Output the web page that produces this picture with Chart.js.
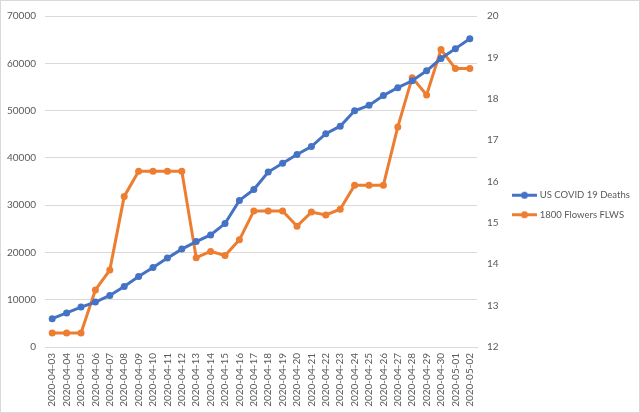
<!DOCTYPE html>
<html>
<head>
<meta charset="utf-8">
<script src="https://cdn.jsdelivr.net/npm/chart.js@4"></script>
<style>
html,body{margin:0;padding:0;background:#fff;}
#wrap{width:640px;height:413px;position:relative;}
</style>
</head>
<body>
<div id="wrap"><canvas id="c" width="640" height="413"></canvas></div>
<script>
const categories = ["2020-04-03","2020-04-04","2020-04-05","2020-04-06","2020-04-07","2020-04-08","2020-04-09","2020-04-10","2020-04-11","2020-04-12","2020-04-13","2020-04-14","2020-04-15","2020-04-16","2020-04-17","2020-04-18","2020-04-19","2020-04-20","2020-04-21","2020-04-22","2020-04-23","2020-04-24","2020-04-25","2020-04-26","2020-04-27","2020-04-28","2020-04-29","2020-04-30","2020-05-01","2020-05-02"];
const covidDeaths = [6000,7200,8450,9500,10900,12800,14900,16800,18800,20700,22300,23700,26100,31000,33300,37000,38850,40700,42400,45100,46700,49950,51100,53200,54850,56300,58400,61000,63100,65200];
const flwsPrice = [12.34,12.34,12.34,13.38,13.86,15.64,16.25,16.25,16.25,16.25,14.16,14.31,14.21,14.59,15.29,15.29,15.29,14.92,15.26,15.19,15.33,15.91,15.91,15.91,17.32,18.51,18.09,19.19,18.73,18.73];
const leftTicks = [0,10000,20000,30000,40000,50000,60000,70000];
const rightTicks = [12,13,14,15,16,17,18,19,20];
const seriesNames = ["US COVID 19 Deaths","1800 Flowers FLWS"];
const colors = ["#4472C4","#ED7D31"];

function legendIcon(color){
  const cv = document.createElement('canvas');
  cv.width = 25; cv.height = 9;
  const g = cv.getContext('2d');
  g.strokeStyle = color; g.lineWidth = 3;
  g.beginPath(); g.moveTo(0,4.5); g.lineTo(25,4.5); g.stroke();
  g.fillStyle = color;
  g.beginPath(); g.arc(12.5,4.5,3.5,0,Math.PI*2); g.fill();
  return cv;
}
const icons = colors.map(legendIcon);

const border = {
  id:'border',
  afterLayout(chart){
    if (chart.legend){ chart.legend.top -= 8; chart.legend.bottom -= 8; }
  },
  afterDraw(chart){
    const ctx = chart.ctx;
    ctx.save();
    ctx.strokeStyle = '#d9d9d9';
    ctx.lineWidth = 1;
    ctx.strokeRect(0.5,0.5,chart.width-1,chart.height-1);
    ctx.restore();
  }
};

const fam = 'Lato, "Liberation Sans", sans-serif';

new Chart(document.getElementById('c'), {
  type:'line',
  data:{
    labels:categories,
    datasets:[
      {label:seriesNames[0], data:covidDeaths, yAxisID:'y', borderColor:colors[0], backgroundColor:colors[0], borderWidth:3, pointRadius:3.5, pointBackgroundColor:colors[0], pointBorderWidth:0, tension:0, pointStyle:'circle'},
      {label:seriesNames[1], data:flwsPrice, yAxisID:'y1', borderColor:colors[1], backgroundColor:colors[1], borderWidth:3, pointRadius:3.5, pointBackgroundColor:colors[1], pointBorderWidth:0, tension:0, pointStyle:'circle'}
    ]
  },
  options:{
    responsive:false,
    animation:false,
    layout:{padding:{top:13,right:10,bottom:0,left:0}},
    plugins:{
      legend:{
        position:'right',
        align:'center',
        maxWidth:126,
        labels:{
          font:{family:fam,size:9.5},
          color:'#595959',
          usePointStyle:true,
          pointStyleWidth:21,
          boxHeight:9,
          padding:10,
          generateLabels(chart){
            return chart.data.datasets.map((ds,i)=>({
              text:ds.label, fillStyle:ds.borderColor, strokeStyle:ds.borderColor,
              pointStyle:icons[i], datasetIndex:i, hidden:false, lineWidth:0, fontColor:'#595959'
            }));
          }
        }
      },
      tooltip:{enabled:false},
      title:{display:false}
    },
    scales:{
      x:{
        offset:true,
        grid:{display:false, drawTicks:false},
        border:{display:true, color:'#d9d9d9'},
        ticks:{font:{family:fam,size:10}, color:'#595959', minRotation:90, maxRotation:90, autoSkip:false, padding:6},
        afterFit(s){ s.height = 66; }
      },
      y:{
        position:'left',
        min:0, max:70000,
        afterBuildTicks(s){ s.ticks = leftTicks.map(v=>({value:v})); },
        grid:{color:'#d9d9d9', drawTicks:false},
        border:{display:false},
        ticks:{font:{family:fam,size:10}, color:'#595959', padding:9, callback:(v)=>String(v)},
        afterFit(s){ s.width = 45; }
      },
      y1:{
        position:'right',
        min:12, max:20,
        afterBuildTicks(s){ s.ticks = rightTicks.map(v=>({value:v})); },
        grid:{display:false, drawTicks:false},
        border:{display:false},
        ticks:{font:{family:fam,size:10}, color:'#595959', padding:10, callback:(v)=>String(v)},
        afterFit(s){ s.width = 27; }
      }
    }
  },
  plugins:[border]
});
</script>
</body>
</html>
